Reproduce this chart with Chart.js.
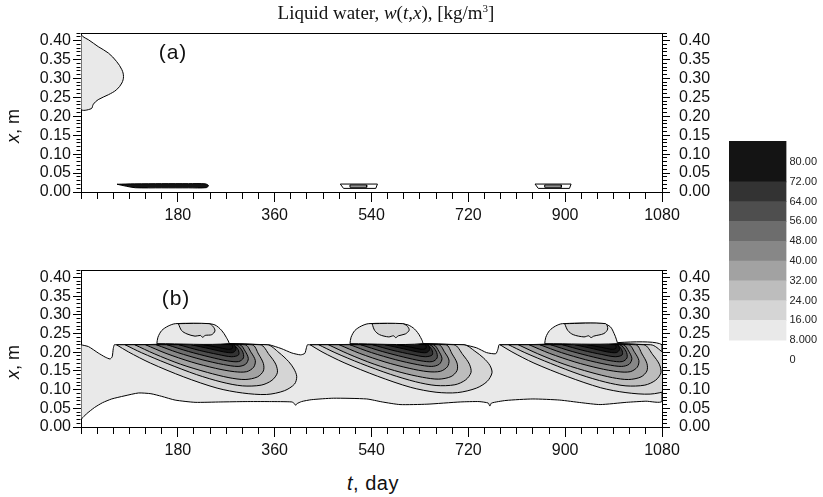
<!DOCTYPE html>
<html>
<head>
<meta charset="utf-8">
<script src="https://cdn.jsdelivr.net/npm/chart.js@4.4.1/dist/chart.umd.min.js"></script>
<style>
  body { margin: 0; background: #fff; }
  #wrap { position: relative; width: 823px; height: 497px; overflow: hidden; font-family: "Liberation Sans", Arial, sans-serif; color: #111; }
  canvas { position: absolute; }
  .lbl { position: absolute; white-space: nowrap; line-height: 1; }
  .rot { transform: translate(-50%, -50%) rotate(-90deg); }
</style>
</head>
<body>
<div id="wrap">
  <canvas id="chartA" width="823" height="232" style="left:0;top:0"></canvas>
  <canvas id="chartB" width="823" height="232" style="left:0;top:240px"></canvas>
  <canvas id="scaleBar" width="94" height="240" style="left:729px;top:130px"></canvas>
  <div class="lbl" style="left:386px;top:3px;transform:translateX(-50%);font-family:'Liberation Serif',serif;font-size:19px">Liquid water, <i>w</i>(<i>t</i>,<i>x</i>), [kg/m<sup style="font-size:11px;line-height:0">3</sup>]</div>
  <div class="lbl rot" style="left:13px;top:126px;font-size:18px"><i>x</i>, m</div>
  <div class="lbl rot" style="left:13px;top:362px;font-size:18px"><i>x</i>, m</div>
  <div class="lbl" style="left:373px;top:483px;transform:translate(-50%,-50%);font-size:20px;letter-spacing:0.5px"><i>t</i>, day</div>
  <div class="lbl" style="left:173px;top:51px;transform:translate(-50%,-50%);font-size:21px;letter-spacing:1px">(a)</div>
  <div class="lbl" style="left:176px;top:297px;transform:translate(-50%,-50%);font-size:21px;letter-spacing:1px">(b)</div>
</div>
<script>
// axes
const xTickLabels = [180, 360, 540, 720, 900, 1080];
const yTickLabels = ["0.00", "0.05", "0.10", "0.15", "0.20", "0.25", "0.30", "0.35", "0.40"];

// contour levels, kg/m3 (colour of band [level, next level])
const levels = [0, 8, 16, 24, 32, 40, 48, 56, 64, 72, 80];
const levelLabels = ["0", "8.000", "16.00", "24.00", "32.00", "40.00", "48.00", "56.00", "64.00", "72.00", "80.00"];
const bandColors = ["#ffffff", "#e9e9e9", "#d5d5d5", "#bdbdbd", "#a2a2a2", "#878787", "#6d6d6d", "#4e4e4e", "#333333", "#141414", "#141414"];
const barTop = 88.5;

// panel (a): contour outlines, [t day, x m]
const a_top = [[0,0.417],[4,0.41],[14,0.402],[32,0.384],[51,0.367],[66,0.345],[76,0.323],[79,0.305],[76,0.288],[66,0.27],[51,0.257],[32,0.244],[23,0.232],[19,0.22],[0,0.22]];
const a_wedge = [[67,0.0205],[100,0.0215],[150,0.022],[200,0.022],[231,0.0215],[237,0.017],[233,0.0115],[200,0.011],[150,0.011],[101,0.0113],[85,0.015]];
const a_spot1 = [[482,0.021],[551,0.021],[548,0.0095],[488,0.0095]];
const a_spot1in = [[500,0.0185],[531,0.0185],[531,0.0125],[500,0.0125]];
const a_spot2 = [[844,0.021],[911,0.021],[908,0.0095],[850,0.0095]];
const a_spot2in = [[862,0.0185],[893,0.0185],[893,0.0125],[862,0.0125]];

// panel (b): outer 8 kg/m3 region
const b_w8 = [[0,0.22],[14,0.215],[32,0.198],[45,0.187],[54,0.182],[58,0.188],[60,0.21],[62,0.22],[66,0.22],[200,0.22],[346,0.22],[350,0.22],[372,0.21],[392,0.198],[408,0.193],[416,0.197],[419,0.212],[421,0.22],[425,0.22],[560,0.22],[708,0.22],[712,0.22],[735,0.212],[754,0.199],[771,0.196],[775,0.208],[777,0.22],[781,0.22],[930,0.22],[1080,0.22],
  [1080,0.069],[1050,0.069],[1014,0.066],[965,0.06],[930,0.065],[890,0.072],[840,0.075],[790,0.071],[763,0.064],[760,0.056],[757,0.064],[740,0.068],[705,0.067],[643,0.061],[593,0.06],[560,0.067],[531,0.075],[469,0.077],[428,0.073],[410,0.068],[401,0.062],[399,0.058],[397,0.062],[392,0.067],[350,0.068],[305,0.068],[260,0.067],[212,0.066],[175,0.072],[150,0.082],[130,0.089],[107,0.091],[80,0.083],[57,0.075],[40,0.065],[25,0.052],[10,0.035],[0,0.022]];

// panel (b): first year
const b1_16 = [[66,0.22],[88,0.201],[129,0.171],[191,0.134],[253,0.104],[300,0.091],[345,0.087],[378,0.097],[397,0.115],[401,0.135],[396,0.155],[386,0.175],[368,0.199],[346,0.22]];
const b1_24 = [[82,0.22],[112,0.199],[160,0.170],[215,0.140],[262,0.120],[300,0.110],[335,0.112],[355,0.125],[365,0.145],[362,0.168],[350,0.193],[333,0.22]];
const b1_32 = [[100,0.22],[136,0.196],[185,0.168],[235,0.146],[275,0.132],[305,0.127],[328,0.134],[339,0.150],[339,0.170],[330,0.195],[318,0.22]];
const b1_40 = [[120,0.22],[158,0.197],[205,0.174],[250,0.157],[285,0.148],[308,0.148],[321,0.160],[324,0.178],[316,0.200],[305,0.22]];
const b1_48 = [[140,0.22],[180,0.199],[225,0.180],[265,0.167],[292,0.162],[306,0.168],[311,0.183],[305,0.203],[295,0.22]];
const b1_56 = [[160,0.22],[200,0.202],[240,0.187],[272,0.177],[293,0.175],[302,0.185],[300,0.203],[288,0.22]];
const b1_64 = [[182,0.22],[220,0.205],[255,0.194],[280,0.188],[293,0.193],[292,0.207],[282,0.22]];
const b1_72 = [[205,0.22],[240,0.209],[265,0.201],[282,0.199],[288,0.207],[284,0.22]];
const b1_80 = [[228,0.22],[255,0.213],[272,0.208],[281,0.210],[280,0.22]];

// second year
const b2_16 = [[426,0.22],[448,0.201],[489,0.172],[551,0.136],[613,0.106],[660,0.093],[700,0.092],[735,0.104],[755,0.122],[764,0.145],[760,0.165],[748,0.185],[732,0.203],[712,0.22]];
const b2_24 = [[442,0.22],[472,0.199],[520,0.170],[575,0.141],[622,0.121],[660,0.111],[695,0.113],[715,0.126],[725,0.146],[722,0.168],[710,0.193],[693,0.22]];
const b2_32 = [[460,0.22],[496,0.196],[545,0.168],[595,0.146],[635,0.133],[665,0.128],[688,0.135],[699,0.151],[699,0.171],[690,0.195],[678,0.22]];
const b2_40 = [[480,0.22],[518,0.197],[565,0.174],[610,0.157],[645,0.148],[668,0.149],[681,0.161],[684,0.179],[676,0.200],[665,0.22]];
const b2_48 = [[500,0.22],[540,0.199],[585,0.180],[625,0.167],[652,0.162],[666,0.168],[671,0.183],[665,0.203],[655,0.22]];
const b2_56 = [[520,0.22],[560,0.202],[600,0.187],[632,0.177],[653,0.175],[662,0.185],[660,0.203],[648,0.22]];
const b2_64 = [[542,0.22],[580,0.205],[615,0.194],[640,0.188],[653,0.193],[652,0.207],[642,0.22]];
const b2_72 = [[565,0.22],[600,0.209],[625,0.201],[642,0.199],[648,0.207],[644,0.22]];
const b2_80 = [[588,0.22],[615,0.213],[632,0.208],[641,0.210],[640,0.22]];

// third year (runs past the right edge)
const b3_16 = [[779,0.22],[801,0.201],[842,0.171],[904,0.135],[966,0.105],[1013,0.092],[1058,0.088],[1091,0.098],[1110,0.116],[1114,0.136],[1109,0.156],[1099,0.176],[1081,0.2],[1059,0.22]];
const b3_24 = [[795,0.22],[825,0.199],[873,0.170],[928,0.140],[975,0.120],[1013,0.110],[1048,0.112],[1068,0.125],[1078,0.145],[1075,0.168],[1063,0.193],[1046,0.22]];
const b3_32 = [[813,0.22],[849,0.196],[898,0.168],[948,0.146],[988,0.132],[1018,0.127],[1041,0.134],[1052,0.150],[1052,0.170],[1043,0.195],[1031,0.22]];
const b3_40 = [[833,0.22],[871,0.197],[918,0.174],[963,0.157],[998,0.148],[1021,0.148],[1034,0.160],[1037,0.178],[1029,0.200],[1018,0.22]];
const b3_48 = [[853,0.22],[893,0.199],[938,0.180],[978,0.167],[1005,0.162],[1019,0.168],[1024,0.183],[1018,0.203],[1008,0.22]];
const b3_56 = [[873,0.22],[913,0.202],[953,0.187],[985,0.177],[1006,0.175],[1015,0.185],[1013,0.203],[1001,0.22]];
const b3_64 = [[895,0.22],[933,0.205],[968,0.194],[993,0.188],[1006,0.193],[1005,0.207],[995,0.22]];
const b3_72 = [[918,0.22],[953,0.209],[978,0.201],[995,0.199],[1001,0.207],[997,0.22]];
const b3_80 = [[941,0.22],[968,0.213],[985,0.208],[994,0.210],[993,0.22]];

// domes above the surface
const b1_cap = [[141,0.223],[143,0.240],[150,0.258],[162,0.270],[176,0.2765],[234,0.2765],[249,0.273],[261,0.259],[270,0.240],[274,0.223]];
const b1_capIn = [[181,0.2765],[187,0.258],[197,0.249],[212,0.243],[222,0.245],[226,0.240],[231,0.245],[243,0.247],[249,0.257],[246,0.268],[238,0.2765]];
const b2_cap = [[500,0.223],[502,0.240],[509,0.258],[521,0.270],[535,0.2765],[593,0.2765],[608,0.273],[620,0.262],[630,0.243],[634,0.223]];
const b2_capIn = [[541,0.2765],[546,0.258],[555,0.247],[572,0.241],[581,0.244],[585,0.239],[590,0.244],[603,0.249],[610,0.259],[607,0.269],[598,0.2765]];
const b3_cap = [[862,0.223],[864,0.240],[871,0.258],[882,0.270],[895,0.2765],[971,0.2765],[984,0.268],[991,0.250],[995,0.235],[996,0.223]];
const b3_capIn = [[899,0.2765],[905,0.258],[915,0.247],[935,0.241],[944,0.244],[948,0.239],[953,0.243],[972,0.25],[979,0.262],[975,0.2765]];

function colorOf(level) {
  return bandColors[levels.indexOf(level)];
}

// one closed contour region -> line dataset filled as a shape
function region(pts, color, i, tension) {
  const data = pts.map(p => ({ x: p[0], y: p[1] }));
  data.push({ x: pts[0][0], y: pts[0][1] });
  return {
    data: data,
    backgroundColor: color,
    borderColor: "#000",
    borderWidth: 1,
    fill: "shape",
    tension: tension,
    pointRadius: 0,
    order: -i,
    xAxisID: "x",
    yAxisID: "y",
  };
}

function yLabel(v) {
  const k = Math.round(v * 100);
  if (Math.abs(v * 100 - k) > 1e-6 || k % 5 !== 0) return "";
  return yTickLabels[k / 5] || "";
}
function isMajorY(v) {
  const k = Math.round(v * 100);
  return k % 5 === 0 && k <= 40;
}

function panelOptions(padTop, xAxisH) {
  const font = { family: "Liberation Sans", size: 16 };
  return {
    responsive: false,
    animation: false,
    layout: { padding: { top: padTop, left: 0, right: 0, bottom: 0 } },
    plugins: { legend: { display: false }, tooltip: { enabled: false } },
    scales: {
      x: {
        type: "linear", position: "bottom", min: 0, max: 1080,
        ticks: { stepSize: 30, autoSkip: false, maxRotation: 0, padding: 4, color: "#111", font: font,
          callback: v => (xTickLabels.includes(v) ? String(v) : "") },
        grid: { drawOnChartArea: false, tickLength: 10, tickColor: "#000", tickWidth: 1,
          tickBorderDash: c => (c.tick && !xTickLabels.includes(c.tick.value) ? [6, 40] : []) },
        border: { color: "#000", width: 1 },
        afterFit: s => { s.height = xAxisH; },
      },
      x2: {
        type: "linear", position: "top", min: 0, max: 1080,
        ticks: { display: false }, grid: { display: false },
        border: { color: "#000", width: 1 },
        afterFit: s => { s.height = 0; },
      },
      y: {
        type: "linear", position: "left", min: 0, max: 0.42,
        ticks: { stepSize: 0.01, autoSkip: false, padding: 2, color: "#111", font: font, callback: yLabel },
        grid: { drawOnChartArea: false, tickLength: 8, tickColor: "#000", tickWidth: 1,
          tickBorderDash: c => (c.tick && !isMajorY(c.tick.value) ? [0, 3.5, 4, 40] : []) },
        border: { color: "#000", width: 1 },
        afterFit: s => { s.width = 81; },
      },
      y2: {
        type: "linear", position: "right", min: 0, max: 0.42,
        ticks: { stepSize: 0.01, autoSkip: false, padding: 9, color: "#111", font: font, callback: yLabel },
        grid: { drawOnChartArea: false, tickLength: 8, tickColor: "#000", tickWidth: 1,
          tickBorderDash: c => (c.tick && !isMajorY(c.tick.value) ? [4, 40] : []) },
        border: { color: "#000", width: 1 },
        afterFit: s => { s.width = 161; },
      },
    },
  };
}

// panel (a)
const aSets = [
  region(a_top, colorOf(8), 0, 0.35),
  region(a_wedge, colorOf(72), 1, 0.3),
  region(a_spot1, "#ffffff", 2, 0),
  region(a_spot1in, colorOf(24), 3, 0),
  region(a_spot2, "#ffffff", 4, 0),
  region(a_spot2in, colorOf(24), 5, 0),
];
new Chart(document.getElementById("chartA"), {
  type: "line",
  data: { datasets: aSets },
  options: panelOptions(33, 40),
});

// panel (b), outer band first, darker bands on top
const bList = [
  [b_w8, 8, 0.2],
  [b1_16, 16], [b2_16, 16], [b3_16, 16],
  [b1_24, 24], [b2_24, 24], [b3_24, 24],
  [b1_32, 32], [b2_32, 32], [b3_32, 32],
  [b1_40, 40], [b2_40, 40], [b3_40, 40],
  [b1_48, 48], [b2_48, 48], [b3_48, 48],
  [b1_56, 56], [b2_56, 56], [b3_56, 56],
  [b1_64, 64], [b2_64, 64], [b3_64, 64],
  [b1_72, 72], [b2_72, 72], [b3_72, 72],
  [b1_80, 80], [b2_80, 80], [b3_80, 80],
  [b1_cap, 8], [b2_cap, 8], [b3_cap, 8],
  [b1_capIn, 16], [b2_capIn, 16], [b3_capIn, 16],
];
const bSets = bList.map((r, i) => region(r[0], colorOf(r[1]), i, r.length > 2 ? r[2] : 0.3));
new Chart(document.getElementById("chartB"), {
  type: "line",
  data: { datasets: bSets },
  options: panelOptions(30, 45),
});

// colour scale
const barSets = [];
for (let i = 1; i < levels.length - 1; i++) {
  const hi = i === levels.length - 2 ? barTop : levels[i + 1];
  barSets.push({
    data: [[levels[i], hi]],
    backgroundColor: bandColors[i],
    borderWidth: 0,
    barPercentage: 1,
    categoryPercentage: 1,
  });
}
new Chart(document.getElementById("scaleBar"), {
  type: "bar",
  data: { labels: [""], datasets: barSets },
  options: {
    responsive: false,
    animation: false,
    layout: { padding: { top: 11, bottom: 10, left: 0, right: 3 } },
    plugins: { legend: { display: false }, tooltip: { enabled: false } },
    scales: {
      x: { display: false, stacked: true },
      y: {
        position: "right", min: 0, max: barTop,
        ticks: { stepSize: 8, autoSkip: false, includeBounds: false, padding: 3, color: "#222",
          font: { family: "Liberation Sans", size: 11 },
          callback: v => { const i = levels.indexOf(v); return i >= 0 ? levelLabels[i] : ""; } },
        grid: { display: false, drawTicks: false },
        border: { display: false },
      },
    },
  },
});
</script>
</body>
</html>
